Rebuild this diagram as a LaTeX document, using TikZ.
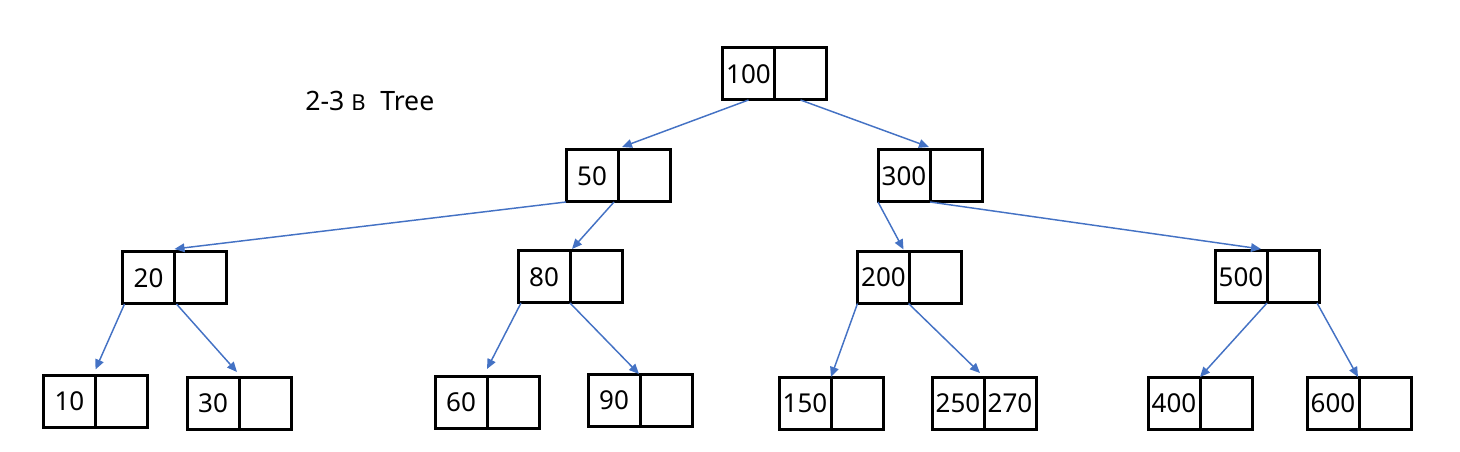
\documentclass[tikz,border=0pt]{standalone}
\usepackage{fontspec}
\setmainfont{Noto Sans}
\usetikzlibrary{arrows.meta,calc}
\definecolor{arrowblue}{HTML}{4472C4}
\tikzset{
  cell/.style={draw=black, line width=2.25pt, minimum width=39pt, minimum height=39pt,
    inner sep=0pt, outer sep=0pt, font=\fontsize{19.5pt}{22pt}\selectfont},
  link/.style={draw=arrowblue, line width=1.1pt, -{Triangle[length=7.5pt,width=6.5pt]}}
}
\begin{document}
\begin{tikzpicture}[x=0.75pt,y=-0.75pt]
\path[use as bounding box] (0,0) rectangle (1460,452);
% title
\node[anchor=base west, inner sep=0pt] (title) at (305,111)
  {\fontsize{20pt}{22pt}\selectfont 2-3 {\fontsize{16.5pt}{18pt}\selectfont B}\hspace{0.55em}Tree};
% nodes: left cell with key, right cell empty
\foreach \k/\x/\y/\r in {100/748.5/74/{}, 50/592/176/{}, 300/904/176/{}, 20/148.5/278/{},
    80/544/277/{}, 200/883.5/277.5/{}, 500/1241/277/{}, 10/69.5/401.5/{}, 30/213/403/{},
    60/461/402/{}, 90/614/400/{}, 150/805/403/{}, 250/958/403/270, 400/1174/403/{}, 600/1333/403/{}}{
  \node[cell] (n\k) at (\x,\y) {\k};
  \node[cell, anchor=west] (n\k r) at (n\k.east) {\r};
}
% connectors
\draw[link] (n100.south) -- ($(n50.north east)+(4,-3)$);
\draw[link] (n100r.south) -- ($(n300.north east)+(-1,-3)$);
\draw[link] (n50.south west) -- ($(n20.north east)+(0,-3)$);
\draw[link] ($(n50.south east)+(-4,0)$) -- ($(n80.north east)+(2,-2)$);
\draw[link] (n300.south west) -- ($(n200.north east)+(-6,-2)$);
\draw[link] (n300.south east) -- ($(n500.north east)+(-6,-2)$);
\draw[link] ($(n20.south west)+(2,0)$) -- ($(n10.north east)+(0,-6)$);
\draw[link] ($(n20.south east)+(2,0)$) -- ($(n30.north east)+(-2,-5)$);
\draw[link] ($(n80.south west)+(3,0)$) -- ($(n60.north east)+(0,-7)$);
\draw[link] (n80.south east) -- ($(n90.north east)+(-1,0)$);
\draw[link] (n200.south west) -- (n150.north east);
\draw[link] ($(n200.south east)+(-1,0)$) -- ($(n250.north east)+(-4,-4)$);
\draw[link] (n500.south east) -- (n400.north east);
\draw[link] ($(n500r.south east)+(-2,0)$) -- ($(n600.north east)+(-1,0)$);
\end{tikzpicture}
\end{document}
